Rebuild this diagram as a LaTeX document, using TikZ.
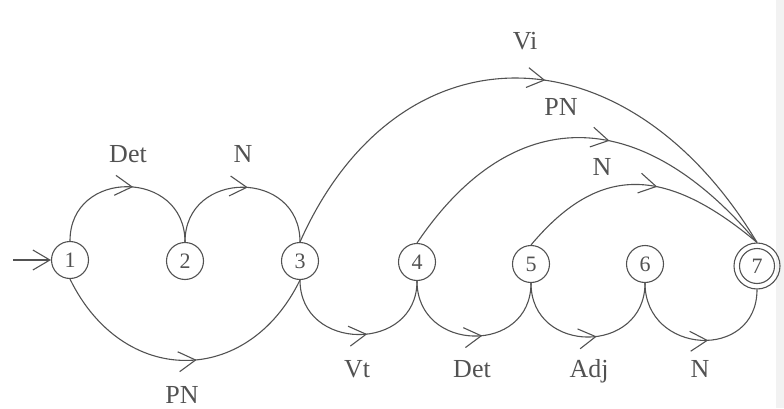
\documentclass[tikz,border=0pt]{standalone}
\usepackage{fontspec}
\setmainfont{Liberation Serif}
\usetikzlibrary{arrows.meta,decorations.markings}
\begin{document}
\begin{tikzpicture}[x=1pt,y=1pt,
  ink/.style={draw=black!68},
  state/.style={circle,draw=black!68,line width=1.1pt,minimum size=37pt,inner sep=0pt,
    text=black!68,font=\fontsize{22}{22}\selectfont},
  edge/.style={draw=black!68,line width=1.1pt},
  barb/.style={-{Straight Barb[length=17pt,width=20pt]}},
  midarrow/.style={postaction={decorate},decoration={markings,
    mark=at position #1 with {\arrow[black!68,line width=1.1pt]{Straight Barb[length=17pt,width=20pt]}}}},
  lbl/.style={anchor=base,inner sep=1pt,text=black!68,font=\fontsize{26}{26}\selectfont}]
\useasboundingbox (0,0) rectangle (784,408);
% faint shadow along the right edge of the page
\fill[black!5] (776,0) rectangle (784,408);

% states
\node[state] (n1) at (70,148) {1};
\node[state] (n2) at (185,147) {2};
\node[state] (n3) at (300,147) {3};
\node[state] (n4) at (417,146) {4};
\node[state] (n5) at (531,144) {5};
\node[state] (n6) at (645,144) {6};
\node[state,minimum size=46pt] (n7) at (757,142) {7};
\draw[ink,line width=1.1pt] (n7.center) circle (17.5pt);

% initial arrow
\coordinate (start) at (13,148);
\draw[edge,barb] (start) -- (n1.west);

% upper transitions
\draw[edge,midarrow=0.53] (n1.north) .. controls +(0,73) and +(0,73) .. (n2.north);
\draw[edge,midarrow=0.53] (n2.north) .. controls +(0,73) and +(0,73) .. (n3.north);
\draw[edge,midarrow=0.535] (n3.north) .. controls +(66:240) and +(121:255) .. (n7.north);
\draw[edge,midarrow=0.56] (n4.north) .. controls +(56:169) and +(130:183) .. (n7.north);
\draw[edge,midarrow=0.56] (n5.north) .. controls +(50:103) and +(140:123) .. (n7.north);

% lower transitions
\draw[edge,midarrow=0.54] (n1.south) .. controls +(-64:120) and +(-116:120) .. (n3.south);
\draw[edge,midarrow=0.55] (n3.south) .. controls +(0,-72) and +(0,-72) .. (n4.south);
\draw[edge,midarrow=0.55] (n4.south) .. controls +(0,-72) and +(0,-72) .. (n5.south);
\draw[edge,midarrow=0.55] (n5.south) .. controls +(0,-72) and +(0,-72) .. (n6.south);
\draw[edge,midarrow=0.55] (n6.south) .. controls +(0,-72) and +(0,-72) .. (n7.south);

% labels
\node[lbl] (l12) at (128,246) {Det};
\node[lbl] (l23) at (243,246) {N};
\node[lbl] (l37) at (525,358) {Vi};
\node[lbl] (l47) at (561,293) {PN};
\node[lbl] (l57) at (602,233) {N};
\node[lbl] (l13) at (182,5) {PN};
\node[lbl] (l34) at (357,31) {Vt};
\node[lbl] (l45) at (472,31) {Det};
\node[lbl] (l56) at (589,31) {Adj};
\node[lbl] (l67) at (700,31) {N};
\end{tikzpicture}
\end{document}
